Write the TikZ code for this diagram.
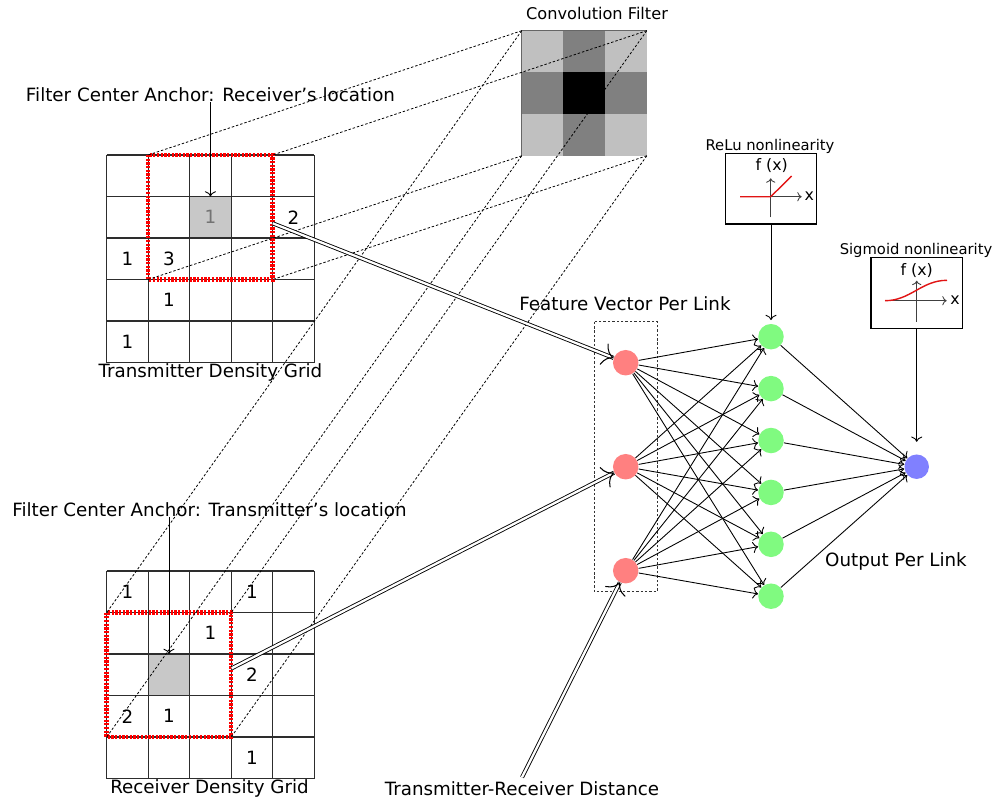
\documentclass[tikz,border=0pt]{standalone}
\usepackage{fontspec}
\setmainfont{DejaVu Sans}
\usetikzlibrary{arrows.meta, decorations.markings}
\tikzstyle{pixelGrid} = [x = 0.02cm, y = -0.02cm]
\definecolor{gridColor}{RGB}{45,45,45}
\definecolor{anchorGray}{RGB}{200,200,200}
\definecolor{filterLight}{RGB}{192,192,192}
\definecolor{filterMid}{RGB}{128,128,128}
\definecolor{inputColor}{RGB}{255,128,128}
\definecolor{hiddenColor}{RGB}{128,250,128}
\definecolor{outputColor}{RGB}{128,128,255}
\definecolor{curveColor}{RGB}{225,20,20}
\tikzstyle{gridLine} = [color=gridColor, line width=0.6pt]
\tikzstyle{windowStyle} = [color=red, line width=2.6pt, dash pattern=on 1.3pt off 0.8pt]
\tikzstyle{projLine} = [line width=0.45pt, dash pattern=on 1.4pt off 1.1pt]
\tikzstyle{labelText} = [font=\fontsize{10.4}{12}\selectfont, anchor=base, inner sep=0pt]
\tikzstyle{smallText} = [font=\fontsize{8.4}{10}\selectfont, anchor=base, inner sep=0pt]
\tikzstyle{gridText} = [font=\fontsize{10.4}{12}\selectfont]
\tikzstyle{neuron} = [circle, minimum size=0.51cm, inner sep=0pt]
\tikzstyle{netEdge} = [line width=0.5pt, -{To[length=3pt]}]
\tikzstyle{featureArrow} = [double, double distance=1.3pt, line width=0.5pt,
  postaction={decorate, decoration={markings, mark=at position 1 with {\arrow[line width=0.6pt]{To[length=6pt, width=13pt]}}}}]
\tikzstyle{plotBox} = [draw, line width=0.7pt, minimum width=1.83cm, minimum height=1.41cm]
\tikzstyle{plotAxis} = [line width=0.5pt, color=black!75, -{To[length=2.5pt]}]
\tikzstyle{plotCurve} = [line width=0.8pt, color=curveColor]
\newcommand{\cellSize}{41.5}
\newcommand{\densityGrid}[2]{
  \foreach \k in {0,...,5} {
    \draw [gridLine] (#1 + \k*\cellSize, #2) -- + (0, 5*\cellSize);
    \draw [gridLine] (#1, #2 + \k*\cellSize) -- + (5*\cellSize, 0);
  }
}
\newcommand{\gridNumber}[5]{\node [gridText] at (#1 + #3*\cellSize + \cellSize/2, #2 + #4*\cellSize + \cellSize/2) {#5};}
\newcommand{\anchorCell}[4]{\fill [anchorGray] (#1 + #3*\cellSize, #2 + #4*\cellSize) rectangle + (\cellSize, \cellSize);}
\newcommand{\filterWindow}[5]{
  \coordinate (#5TL) at (#1 + #3*\cellSize, #2 + #4*\cellSize);
  \coordinate (#5TR) at (#1 + #3*\cellSize + 3*\cellSize, #2 + #4*\cellSize);
  \coordinate (#5BL) at (#1 + #3*\cellSize, #2 + #4*\cellSize + 3*\cellSize);
  \coordinate (#5BR) at (#1 + #3*\cellSize + 3*\cellSize, #2 + #4*\cellSize + 3*\cellSize);
  \draw [windowStyle] (#5TL) rectangle (#5BR);
}

\begin{document}
\begin{tikzpicture}[pixelGrid]
  \useasboundingbox (0,0) rectangle (997,805);
  % transmitter density grid
  \anchorCell{106.7}{155}{2}{1}
  \densityGrid{106.7}{155}
  \node [gridText, color=black!55] at (106.7 + 2.5*\cellSize, 155 + 1.5*\cellSize) {1};
  \gridNumber{106.7}{155}{4}{1}{2}
  \gridNumber{106.7}{155}{0}{2}{1}
  \gridNumber{106.7}{155}{1}{2}{3}
  \gridNumber{106.7}{155}{1}{3}{1}
  \gridNumber{106.7}{155}{0}{4}{1}
  \filterWindow{106.7}{155}{1}{0}{top}
  \coordinate (txCell) at (106.7 + 2.5*\cellSize, 155 + \cellSize);
  \node [labelText] (txGridLabel) at (210.5,377) {Transmitter Density Grid};
  % receiver density grid
  \anchorCell{106.7}{571}{1}{2}
  \densityGrid{106.7}{571}
  \gridNumber{106.7}{571}{0}{0}{1}
  \gridNumber{106.7}{571}{3}{0}{1}
  \gridNumber{106.7}{571}{2}{1}{1}
  \gridNumber{106.7}{571}{3}{2}{2}
  \gridNumber{106.7}{571}{0}{3}{2}
  \gridNumber{106.7}{571}{1}{3}{1}
  \gridNumber{106.7}{571}{3}{4}{1}
  \filterWindow{106.7}{571}{0}{1}{bot}
  \coordinate (rxCell) at (106.7 + 1.5*\cellSize, 571 + 2*\cellSize);
  \node [labelText] (rxGridLabel) at (209.5,793) {Receiver Density Grid};
  % convolution filter
  \foreach \col/\row/\shade in {0/0/filterLight, 1/0/filterMid, 2/0/filterLight,
                                0/1/filterMid, 1/1/black, 2/1/filterMid,
                                0/2/filterLight, 1/2/filterMid, 2/2/filterLight} {
    \fill [\shade] (521.7 + \col*41.7, 30.7 + \row*41.7) rectangle + (41.7, 41.7);
  }
  \coordinate (fTL) at (521.7,30.7);
  \coordinate (fTR) at (646.8,30.7);
  \coordinate (fBL) at (521.7,155.8);
  \coordinate (fBR) at (646.8,155.8);
  \draw [color=black!60, line width=0.5pt] (fBL) -- (fTL) -- (fTR);
  \node [labelText, font=\fontsize{9.2}{11}\selectfont] (convLabel) at (597,19.3) {Convolution Filter};
  \foreach \c in {TL,TR,BL,BR} {
    \draw [projLine] (f\c) -- (top\c);
    \draw [projLine] (f\c) -- (bot\c);
  }
  % filter anchors
  \node [labelText] (rxAnchorLabel) at (210.5,101.7) {Filter Center Anchor: Receiver’s location};
  \node [labelText] (txAnchorLabel) at (209.5,516.7) {Filter Center Anchor: Transmitter’s location};
  \draw [netEdge] (rxAnchorLabel.south -| txCell) -- (txCell);
  \draw [netEdge] (txAnchorLabel.south -| rxCell) -- (rxCell);
  % network
  \draw [projLine, color=black!80] (594.3,321.7) rectangle (657.3,591.7);
  \node [labelText] (featureLabel) at (625,310) {Feature Vector Per Link};
  \foreach \i/\y in {1/362.7, 2/466.7, 3/570.7}
    \node [neuron, fill=inputColor] (in\i) at (625.7,\y) {};
  \foreach \j/\y in {1/336.7, 2/388.6, 3/440.5, 4/492.4, 5/544.3, 6/596.2}
    \node [neuron, fill=hiddenColor] (h\j) at (771,\y) {};
  \node [neuron, fill=outputColor, minimum size=0.49cm] (out) at (916.7,466.7) {};
  \foreach \i in {1,2,3} {
    \foreach \j in {1,...,6} {
      \draw [netEdge] (in\i) -- (h\j);
    }
  }
  \foreach \j in {1,...,6}
    \draw [netEdge] (h\j) -- (out);
  \node [labelText] (outputLabel) at (896,566.7) {Output Per Link};
  % inputs of the feature vector
  \coordinate (topOut) at (272.7,223.3);
  \coordinate (botOut) at (231.7,668.3);
  \node [labelText] (distLabel) at (522,795) {Transmitter-Receiver Distance};
  \draw [featureArrow] (topOut) -- (in1);
  \draw [featureArrow] (botOut) -- (in2);
  \draw [featureArrow] ([yshift=2pt]distLabel.north) -- (in3);
  % nonlinearities
  \node [plotBox] (reluBox) at (771,188.7) {};
  \node [smallText] (reluLabel) at (770,150) {ReLu nonlinearity};
  \node [smallText, font=\fontsize{9}{10}\selectfont] (reluF) at (771.7,170) {f (x)};
  \node [smallText, font=\fontsize{9}{10}\selectfont] (reluX) at (809.3,200) {x};
  \draw [plotAxis] (770.7,217.3) -- (770.7,178.3);
  \draw [plotAxis] (740,196.7) -- (801.7,196.7);
  \draw [plotCurve] (740,196.7) -- (770.7,196.7) -- (791.7,176);
  \draw [netEdge, shorten >=2pt] (reluBox) -- (h1);
  \node [plotBox] (sigmoidBox) at (916.7,293) {};
  \node [smallText] (sigmoidLabel) at (916,254) {Sigmoid nonlinearity};
  \node [smallText, font=\fontsize{9}{10}\selectfont] (sigmoidF) at (916.7,275) {f (x)};
  \node [smallText, font=\fontsize{9}{10}\selectfont] (sigmoidX) at (955,304) {x};
  \draw [plotAxis] (916.7,321.7) -- (916.7,280.7);
  \draw [plotAxis] (885,300.7) -- (946.7,300.7);
  \draw [plotCurve] (885,300.7) to [out=0, in=180] (947,280.3);
  \draw [netEdge, shorten >=7pt] (sigmoidBox) -- (out);
\end{tikzpicture}
\end{document}
